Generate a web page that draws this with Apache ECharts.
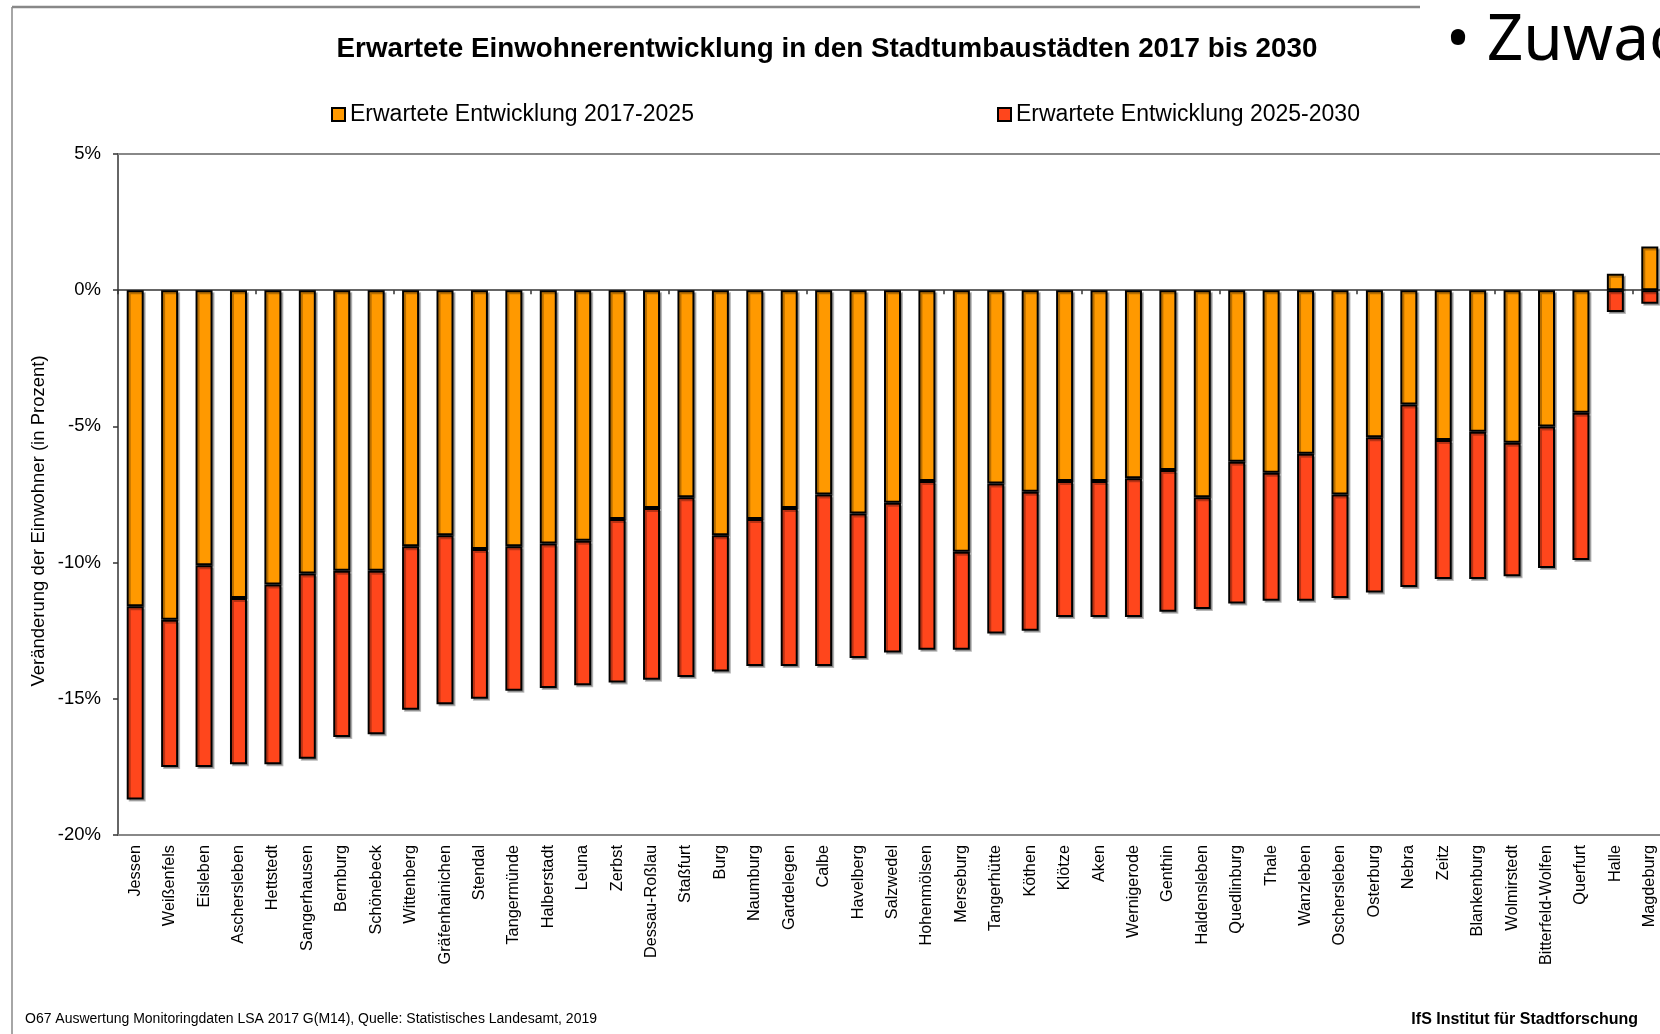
<!DOCTYPE html>
<html>
<head>
<meta charset="utf-8">
<script src="https://cdn.jsdelivr.net/npm/echarts@6/dist/echarts.min.js"></script>
<style>html,body{margin:0;padding:0;background:#fff;overflow:hidden}#c{width:1680px;height:1034px}</style>
</head>
<body>
<div id="c"></div>
<script>
const cities = ["Jessen","Weißenfels","Eisleben","Aschersleben","Hettstedt","Sangerhausen","Bernburg","Schönebeck","Wittenberg","Gräfenhainichen","Stendal","Tangermünde","Halberstadt","Leuna","Zerbst","Dessau-Roßlau","Staßfurt","Burg","Naumburg","Gardelegen","Calbe","Havelberg","Salzwedel","Hohenmölsen","Merseburg","Tangerhütte","Köthen","Klötze","Aken","Wernigerode","Genthin","Haldensleben","Quedlinburg","Thale","Wanzleben","Oschersleben","Osterburg","Nebra","Zeitz","Blankenburg","Wolmirstedt","Bitterfeld-Wolfen","Querfurt","Halle","Magdeburg"];
const dev2017_2025 = [-11.6,-12.1,-10.1,-11.3,-10.8,-10.4,-10.3,-10.3,-9.4,-9.0,-9.5,-9.4,-9.3,-9.2,-8.4,-8.0,-7.6,-9.0,-8.4,-8.0,-7.5,-8.2,-7.8,-7.0,-9.6,-7.1,-7.4,-7.0,-7.0,-6.9,-6.6,-7.6,-6.3,-6.7,-6.0,-7.5,-5.4,-4.2,-5.5,-5.2,-5.6,-5.0,-4.5,0.6,1.6];
const dev2025_2030 = [-7.1,-5.4,-7.4,-6.1,-6.6,-6.8,-6.1,-6.0,-6.0,-6.2,-5.5,-5.3,-5.3,-5.3,-6.0,-6.3,-6.6,-5.0,-5.4,-5.8,-6.3,-5.3,-5.5,-6.2,-3.6,-5.5,-5.1,-5.0,-5.0,-5.1,-5.2,-4.1,-5.2,-4.7,-5.4,-3.8,-5.7,-6.7,-5.1,-5.4,-4.9,-5.2,-5.4,-0.8,-0.5];
const yTicks = {min: -20, max: 5, interval: 5};
const seriesNames = ["Erwartete Entwicklung 2017-2025", "Erwartete Entwicklung 2025-2030"];
const titleText = "Erwartete Einwohnerentwicklung in den Stadtumbaustädten 2017 bis 2030";
const yName = "Veränderung der Einwohner (in Prozent)";
const footLeft = "O67 Auswertung Monitoringdaten LSA 2017 G(M14), Quelle: Statistisches Landesamt, 2019";
const footRight = "IfS Institut für Stadtforschung";
const slideText = "• Zuwachs";

const chart = echarts.init(document.getElementById('c'), null, {renderer: 'canvas'});
const F = 'Liberation Sans, Arial, sans-serif';
const barStyle = (color) => ({
  color: color, borderColor: '#000', borderWidth: 2,
  shadowColor: 'rgba(0,0,0,0.28)', shadowOffsetX: 2, shadowOffsetY: 2, shadowBlur: 0
});
chart.setOption({
  animation: false,
  backgroundColor: '#fff',
  title: {
    text: titleText, left: 822, top: 30, textAlign: 'center',
    textStyle: {fontFamily: F, fontSize: 27.8, fontWeight: 'bold', color: '#000'}
  },
  legend: [
    {data: [seriesNames[0]], icon: 'rect', left: 326, top: 98, itemWidth: 13, itemHeight: 13, itemGap: 4,
     textStyle: {fontFamily: F, fontSize: 23, color: '#000'}},
    {data: [seriesNames[1]], icon: 'rect', left: 992, top: 98, itemWidth: 13, itemHeight: 13, itemGap: 4,
     textStyle: {fontFamily: F, fontSize: 23, color: '#000'}}
  ],
  grid: {left: 118, right: 13, top: 154, bottom: 199, show: false},
  xAxis: [
    {type: 'category', data: cities, position: 'bottom',
     axisLine: {onZero: false, lineStyle: {color: '#888', width: 2}},
     axisTick: {show: false},
     axisLabel: {rotate: 90, interval: 0, margin: 10, fontFamily: F, fontSize: 16.3, color: '#000'}},
    {type: 'category', data: cities, position: 'top',
     axisLine: {onZero: true, lineStyle: {color: '#333', width: 1.5}},
     axisTick: {show: true, inside: true, length: 4, lineStyle: {color: '#333', width: 1.5}},
     axisLabel: {show: false}},
    {type: 'category', data: cities, position: 'top',
     axisLine: {onZero: false, lineStyle: {color: '#888', width: 2}},
     axisTick: {show: false},
     axisLabel: {show: false}}
  ],
  yAxis: {
    type: 'value', min: yTicks.min, max: yTicks.max, interval: yTicks.interval,
    axisLine: {show: true, lineStyle: {color: '#333', width: 1.5}},
    axisTick: {show: true, length: 5, lineStyle: {color: '#333', width: 1.5}},
    splitLine: {show: false},
    axisLabel: {formatter: '{value}%', margin: 17, fontFamily: F, fontSize: 18.5, color: '#000'}
  },
  series: [
    {name: seriesNames[0], type: 'bar', stack: 'total', data: dev2017_2025, barWidth: 17, itemStyle: barStyle('#FF9900')},
    {name: seriesNames[1], type: 'bar', stack: 'total', data: dev2025_2030, barWidth: 17, itemStyle: barStyle('#FF461C')}
  ],
  graphic: [
    {type: 'line', shape: {x1: 12, y1: 7, x2: 12, y2: 1034}, style: {stroke: '#888', lineWidth: 1.5}},
    {type: 'line', shape: {x1: 12, y1: 7, x2: 1420, y2: 7}, style: {stroke: '#888', lineWidth: 2.5}},
    {type: 'text', left: 1446, top: 10, style: {text: slideText, font: '64px "Noto Sans", "Open Sans", sans-serif', fill: '#000'}},
    {type: 'text', x: 39, y: 521, rotation: Math.PI / 2, style: {text: yName, font: '18.5px ' + F, fill: '#000', align: 'center', verticalAlign: 'middle'}},
    {type: 'text', x: 25, y: 1019, style: {text: footLeft, font: '14px ' + F, fill: '#000', align: 'left', verticalAlign: 'middle'}},
    {type: 'text', x: 1638, y: 1020, style: {text: footRight, font: 'bold 16px ' + F, fill: '#000', align: 'right', verticalAlign: 'middle'}}
  ]
});
</script>
</body>
</html>
